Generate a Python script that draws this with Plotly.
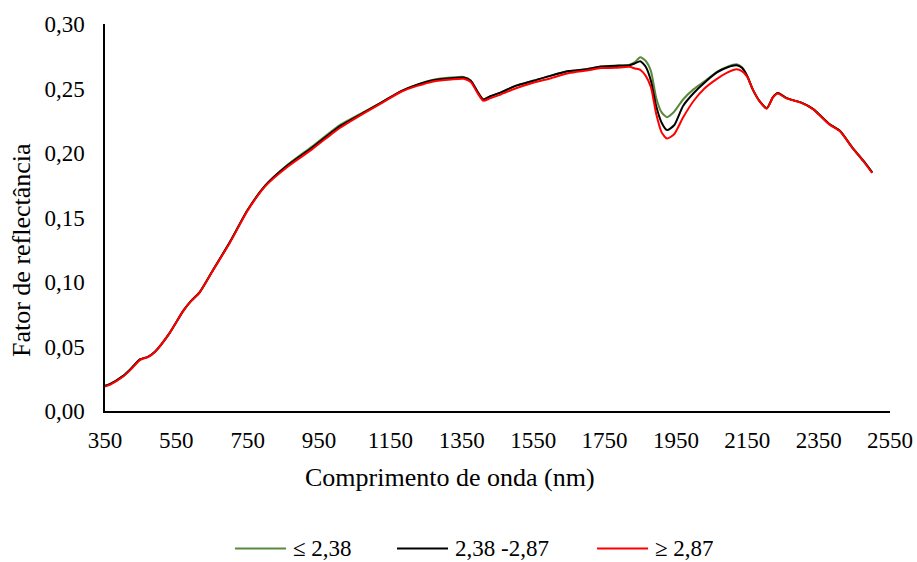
import plotly.graph_objects as go

wavelength = [350, 365, 400, 420, 448, 470, 490, 530, 570, 590, 615, 650, 700, 750, 800, 860,
              930, 990, 1010, 1080, 1130, 1180, 1225, 1270, 1320, 1355, 1375, 1395, 1410, 1430,
              1460, 1500, 1550, 1600, 1650, 1700, 1740, 1780, 1820, 1835, 1850, 1865, 1880, 1895,
              1910, 1925, 1945, 1970, 2000, 2030, 2065, 2095, 2120, 2135, 2150, 2165, 2185, 2205,
              2222, 2236, 2260, 2300, 2335, 2380, 2410, 2445, 2475, 2500]

black_mid = [0.0195, 0.021, 0.027, 0.032, 0.040, 0.042, 0.046, 0.060, 0.078, 0.085, 0.092, 0.108,
             0.131, 0.156, 0.175, 0.190, 0.204, 0.217, 0.221, 0.232, 0.240, 0.248, 0.253, 0.2565,
             0.258, 0.2585, 0.256, 0.247, 0.2415, 0.244, 0.247, 0.252, 0.256, 0.260, 0.2635, 0.265,
             0.267, 0.2675, 0.268, 0.2695, 0.2712, 0.267, 0.256, 0.236, 0.2235, 0.2178, 0.2215,
             0.2365, 0.2465, 0.2545, 0.2625, 0.2665, 0.268, 0.266, 0.2595, 0.2495, 0.240, 0.2347,
             0.2433, 0.2465, 0.2425, 0.2392, 0.234, 0.2225, 0.217, 0.204, 0.194, 0.185]

green_low = [0.0195, 0.021, 0.027, 0.032, 0.040, 0.042, 0.046, 0.060, 0.078, 0.085, 0.092, 0.108,
             0.131, 0.156, 0.175, 0.1905, 0.205, 0.218, 0.222, 0.2325, 0.240, 0.248, 0.253, 0.2568,
             0.2585, 0.259, 0.2562, 0.247, 0.2415, 0.244, 0.247, 0.252, 0.256, 0.260, 0.2635, 0.265,
             0.267, 0.2678, 0.2685, 0.2705, 0.2742, 0.2715, 0.2635, 0.2425, 0.2315, 0.2278, 0.232,
             0.2415, 0.2495, 0.2555, 0.263, 0.267, 0.2688, 0.2665, 0.2598, 0.2495, 0.240, 0.2347,
             0.2433, 0.2465, 0.2425, 0.2392, 0.234, 0.2225, 0.217, 0.204, 0.194, 0.185]

red_high = [0.019, 0.0205, 0.0265, 0.0315, 0.0395, 0.0418, 0.0458, 0.060, 0.0778, 0.0848, 0.0918, 0.1078,
            0.1305, 0.1555, 0.1745, 0.189, 0.2028, 0.2158, 0.2198, 0.2315, 0.2395, 0.2475, 0.252, 0.2555,
            0.257, 0.2575, 0.255, 0.246, 0.2405, 0.2425, 0.2455, 0.250, 0.2545, 0.258, 0.262, 0.264,
            0.2658, 0.266, 0.2668, 0.2655, 0.2645, 0.260, 0.251, 0.230, 0.216, 0.2112, 0.2145,
            0.2275, 0.2405, 0.250, 0.2575, 0.2625, 0.265, 0.2635, 0.259, 0.2495, 0.2398, 0.2345,
            0.2432, 0.2462, 0.2423, 0.239, 0.2338, 0.2222, 0.2168, 0.2038, 0.1938, 0.1845]

series_names = ["≤ 2,38", "2,38 -2,87", "≥ 2,87"]
series_colors = ["#5B8A3C", "#000000", "#FF0000"]
series_values = [green_low, black_mid, red_high]

x_ticks = [350, 550, 750, 950, 1150, 1350, 1550, 1750, 1950, 2150, 2350, 2550]
y_ticks = [0.0, 0.05, 0.10, 0.15, 0.20, 0.25, 0.30]

FONT = "Liberation Serif, Times New Roman, serif"

fig = go.Figure()
for name, color, vals in zip(series_names, series_colors, series_values):
    fig.add_trace(go.Scatter(x=wavelength, y=vals, mode="lines", name=name, showlegend=False,
                             line=dict(color=color, width=2, shape="spline", smoothing=0.6)))

# legend drawn as paper-space shapes + text (Excel-style spacing)
legend_line_x0 = [0.1656, 0.372, 0.6268]
legend_line_len = 0.065
legend_y = -0.355
shapes = []
annotations = []
for name, color, x0 in zip(series_names, series_colors, legend_line_x0):
    shapes.append(dict(type="line", xref="paper", yref="paper", x0=x0, x1=x0 + legend_line_len,
                       y0=legend_y, y1=legend_y, line=dict(color=color, width=2)))
    annotations.append(dict(text=name, xref="paper", yref="paper", x=x0 + legend_line_len + 0.007,
                            y=legend_y, xanchor="left", yanchor="middle", showarrow=False,
                            height=26, borderpad=0, font=dict(family=FONT, size=23)))

annotations += [
    dict(text="Comprimento de onda (nm)", xref="paper", yref="paper", x=0.4395, y=-0.173,
         xanchor="center", yanchor="middle", showarrow=False, font=dict(family=FONT, size=26)),
    dict(text="Fator de reflectância", xref="paper", yref="paper", x=-0.107, y=0.416,
         xanchor="center", yanchor="middle", textangle=-90, showarrow=False,
         font=dict(family=FONT, size=26)),
]

fig.update_layout(
    width=917, height=562,
    margin=dict(l=105, r=27, t=24, b=151),
    paper_bgcolor="white", plot_bgcolor="white",
    separators=",.",
    font=dict(family=FONT, size=23, color="#000000"),
    showlegend=False,
    xaxis=dict(range=[350, 2550], tickvals=x_ticks, ticktext=[str(t) for t in x_ticks],
               showgrid=False, zeroline=False, showline=True, linecolor="#000000", linewidth=1.5,
               ticks="", tickfont=dict(family=FONT, size=23), ticklabelstandoff=8, automargin=False),
    yaxis=dict(range=[0, 0.30], tickvals=y_ticks, tickformat=".2f",
               showgrid=False, zeroline=False, showline=True, linecolor="#000000", linewidth=1.5,
               ticks="", tickfont=dict(family=FONT, size=23), ticklabelstandoff=14, automargin=False),
    shapes=shapes,
    annotations=annotations,
)

fig.write_html("out.html", config={"displayModeBar": False},
               post_script="document.body.style.margin='0';document.body.style.overflow='hidden';")
